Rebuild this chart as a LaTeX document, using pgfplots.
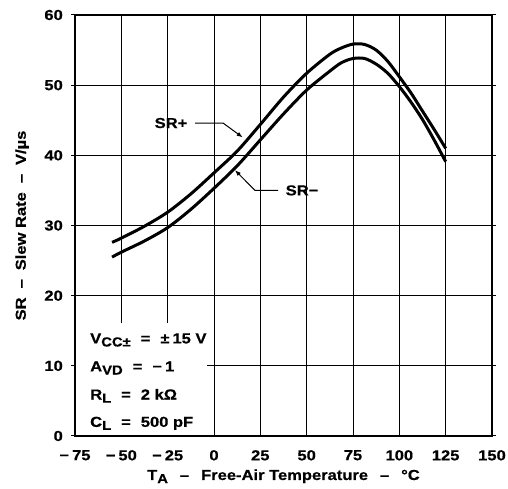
\documentclass[border=0pt]{standalone}
\usepackage{pgfplots}
\pgfplotsset{compat=1.18}
\usetikzlibrary{arrows.meta}
\usepackage{fontspec}
\setmainfont{Liberation Sans Bold}[FakeStretch=1.14, FakeBold=0.6]
\newcommand{\lbl}{\fontsize{14.5}{16}\selectfont}
\newcommand{\sub}[1]{\raisebox{-0.4ex}{\fontsize{13}{14}\selectfont #1}}
\newcommand{\dsh}{\hspace{9pt}–\hspace{9pt}}
\newcommand{\xdsh}{\hspace{12pt}–\hspace{12pt}}
\newcommand{\eq}{\hspace{10pt}=\hspace{10pt}}

\begin{document}
\begin{tikzpicture}
\begin{axis}[
  scale only axis,
  width=417pt, height=421pt,
  xmin=-75, xmax=150, ymin=0, ymax=60,
  xtick={-75,-50,...,150},
  xticklabels={−\hspace{3pt}75,−\hspace{3pt}50,−\hspace{3pt}25,0,25,50,75,100,125,150},
  ytick={0,10,...,60},
  grid=major,
  major grid style={black, line width=1pt},
  axis line style={line width=1.6pt},
  tick align=center,
  xtick style={draw=none},
  ytick style={black, line width=1pt},
  major tick length=8pt,
  tick label style={font=\lbl, inner sep=0pt},
  /pgf/number format/assume math mode=true,
  yticklabel style={anchor=east, xshift=-8pt},
  xticklabel style={anchor=north, yshift=-10pt},
  every axis y label/.style={at={(axis description cs:-0.127,0.5)}, anchor=center, rotate=90, font=\lbl},
  every axis x label/.style={at={(axis description cs:0.5,-0.1045)}, anchor=base, font=\lbl},
  xlabel={T\sub{A}\xdsh Free-Air Temperature\xdsh °C},
  ylabel={SR\dsh Slew Rate\dsh V/µs},
]
% SR+
\addplot[black, line width=3pt, smooth] coordinates {
(-55,27.6) (-50,28.2) (-37.5,29.9) (-25,31.9) (-12.5,34.5) (0,37.5) (12.5,40.6)
(25,44.4) (37.5,48.3) (50,51.7) (62.5,54.4) (68.75,55.3) (75,55.85) (81.25,55.8)
(87.5,55.0) (93.75,53.4) (100,51.2) (106.25,48.9) (112.5,46.3) (118.75,43.7) (125,41.0)};
% SR-
\addplot[black, line width=3pt, smooth] coordinates {
(-55,25.5) (-50,26.2) (-37.5,27.8) (-25,29.7) (-12.5,32.3) (0,35.3) (12.5,38.5)
(25,42.2) (37.5,45.9) (50,49.3) (62.5,52.0) (68.75,53.2) (75,53.8) (81.25,53.8)
(87.5,53.0) (93.75,51.7) (100,49.8) (106.25,47.6) (112.5,45.1) (118.75,42.2) (125,39.1)};

% conditions box
\fill[white] (axis cs:-74.4,0.2) rectangle (axis cs:-3.9,16.1);
\node[font=\lbl, anchor=base west, inner sep=0pt] at (axis cs:-66.9,13.2) {V\sub{CC±}\eq ±\hspace{3pt}15 V};
\node[font=\lbl, anchor=base west, inner sep=0pt] at (axis cs:-66.9,9.2) {A\sub{VD}\eq −\hspace{3pt}1};
\node[font=\lbl, anchor=base west, inner sep=0pt] at (axis cs:-66.9,5.2) {R\sub{L}\eq 2 kΩ};
\node[font=\lbl, anchor=base west, inner sep=0pt] at (axis cs:-66.9,1.3) {C\sub{L}\eq 500 pF};

% curve labels
\node[font=\lbl] at (axis cs:-23.2,44.6) {SR+};
\draw[line width=1pt, -{Latex[length=6pt,width=4.5pt]}] (axis cs:-10.2,44.6) -- (axis cs:4.9,44.6) -- (axis cs:15.5,42.55);
\node[font=\lbl] at (axis cs:47.5,35.0) {SR−};
\draw[line width=1pt, -{Latex[length=6pt,width=4.5pt]}] (axis cs:34.6,35.0) -- (axis cs:22.1,35.0) -- (axis cs:11.3,37.9);
\end{axis}
\pgfresetboundingbox
\path[use as bounding box] (-75pt,-53pt) rectangle (433pt,436pt);
\end{tikzpicture}
\end{document}
